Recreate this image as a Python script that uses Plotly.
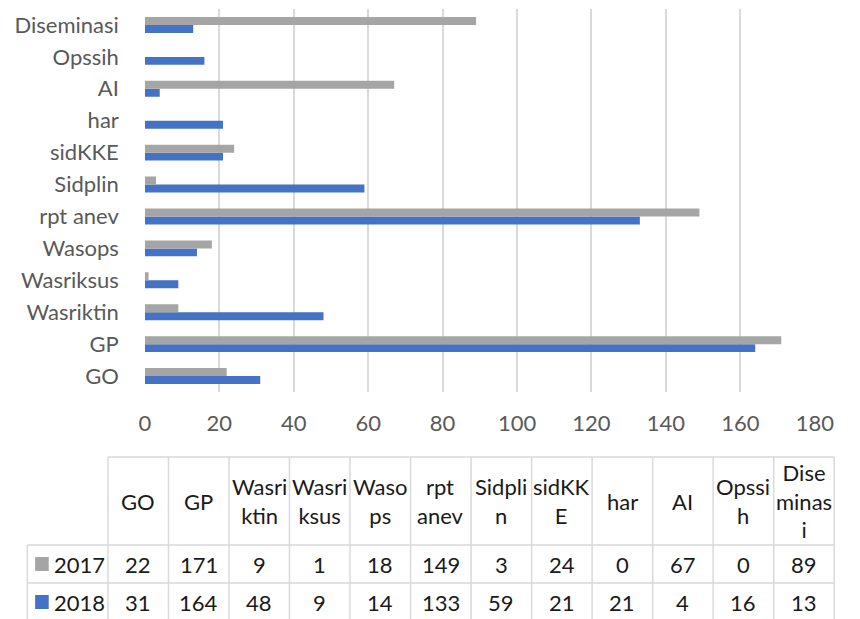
import plotly.graph_objects as go

categories = ["GO", "GP", "Wasriktin", "Wasriksus", "Wasops", "rpt anev",
              "Sidplin", "sidKKE", "har", "AI", "Opssih", "Diseminasi"]
values_2017 = [22, 171, 9, 1, 18, 149, 3, 24, 0, 67, 0, 89]
values_2018 = [31, 164, 48, 9, 14, 133, 59, 21, 21, 4, 16, 13]
table_headers = ["GO", "GP", "Wasri<br>ktin", "Wasri<br>ksus", "Waso<br>ps", "rpt<br>anev",
                 "Sidpli<br>n", "sidKK<br>E", "har", "AI", "Opssi<br>h", "Dise<br>minas<br>i"]
x_ticks = [0, 20, 40, 60, 80, 100, 120, 140, 160, 180]
series_names = ["2017", "2018"]
series_colors = ["#A5A5A5", "#4472C4"]

W, H = 860, 619
FONT = "Lato"
FS = 22
AXIS_COLOR = "#595959"
TEXT_COLOR = "#1a1a1a"
GRID = "#D9D9D9"


def px(x):
    return x / W


def py(y):
    return 1 - y / H


fig = go.Figure()
# 2018 first so that it sits below 2017 within each group
fig.add_trace(go.Bar(y=categories, x=values_2018, orientation="h", name=series_names[1],
                     marker=dict(color=series_colors[1], line=dict(width=0))))
fig.add_trace(go.Bar(y=categories, x=values_2017, orientation="h", name=series_names[0],
                     marker=dict(color=series_colors[0], line=dict(width=0))))

plot_left, plot_right, plot_top, plot_bottom = 143, 833, 9, 392

fig.update_layout(
    width=W, height=H,
    margin=dict(l=0, r=0, t=0, b=0),
    paper_bgcolor="white", plot_bgcolor="white",
    barmode="group", bargap=0.5, bargroupgap=0,
    showlegend=False,
    font=dict(family=FONT, color=AXIS_COLOR, size=FS),
    xaxis=dict(domain=[px(plot_left), px(plot_right)], range=[0, 180],
               tickvals=x_ticks, showgrid=True, gridcolor=GRID, gridwidth=1.5,
               zeroline=False, showline=False, ticks="",
               tickfont=dict(family=FONT, size=FS, color=AXIS_COLOR),
               ticklabelstandoff=16),
    yaxis=dict(domain=[py(plot_bottom), py(plot_top)],
               categoryorder="array", categoryarray=categories,
               showgrid=False, zeroline=False, showline=False, ticks="",
               tickfont=dict(family=FONT, size=FS, color=AXIS_COLOR),
               ticklabelstandoff=25),
)

# ---- data table below the chart ----
col_left = 105
col_right = 853
ncol = len(categories)
col_w = (col_right - col_left) / ncol
first_left = 22
header_top, header_bottom = 457, 545
row_h = 38
rows = [values_2017, values_2018]
table_bottom = header_bottom + row_h * len(rows)

line = dict(color=GRID, width=1.5)
fig.add_shape(type="line", xref="paper", yref="paper", x0=px(col_left), x1=px(col_right),
              y0=py(header_top), y1=py(header_top), line=line)
for r in range(len(rows) + 1):
    yy = header_bottom + r * row_h
    fig.add_shape(type="line", xref="paper", yref="paper", x0=px(first_left), x1=px(col_right),
                  y0=py(yy), y1=py(yy), line=line)
fig.add_shape(type="line", xref="paper", yref="paper", x0=px(first_left), x1=px(first_left),
              y0=py(header_bottom), y1=py(table_bottom), line=line)
for c in range(ncol + 1):
    xx = col_left + c * col_w
    fig.add_shape(type="line", xref="paper", yref="paper", x0=px(xx), x1=px(xx),
                  y0=py(header_top), y1=py(table_bottom), line=line)

for c, lab in enumerate(table_headers):
    fig.add_annotation(x=px(col_left + (c + 0.5) * col_w), y=py((header_top + header_bottom) / 2),
                       xref="paper", yref="paper", text=lab, showarrow=False,
                       xanchor="center", yanchor="middle", align="center",
                       font=dict(family=FONT, size=FS, color=TEXT_COLOR))

for r, vals in enumerate(rows):
    yc = header_bottom + (r + 0.5) * row_h
    fig.add_shape(type="rect", xref="paper", yref="paper",
                  x0=px(30), x1=px(44), y0=py(yc - 7), y1=py(yc + 7),
                  fillcolor=series_colors[r], line=dict(width=0))
    fig.add_annotation(x=px(47), y=py(yc), xref="paper", yref="paper", text=series_names[r],
                       showarrow=False, xanchor="left", yanchor="middle",
                       font=dict(family=FONT, size=FS, color=TEXT_COLOR))
    for c, v in enumerate(vals):
        fig.add_annotation(x=px(col_left + (c + 0.5) * col_w), y=py(yc),
                           xref="paper", yref="paper", text=str(v), showarrow=False,
                           xanchor="center", yanchor="middle",
                           font=dict(family=FONT, size=FS, color=TEXT_COLOR))

fig.write_html(
    "out.html",
    config={"displayModeBar": False},
    post_script="document.body.style.margin='0';document.body.style.overflow='hidden';",
)
